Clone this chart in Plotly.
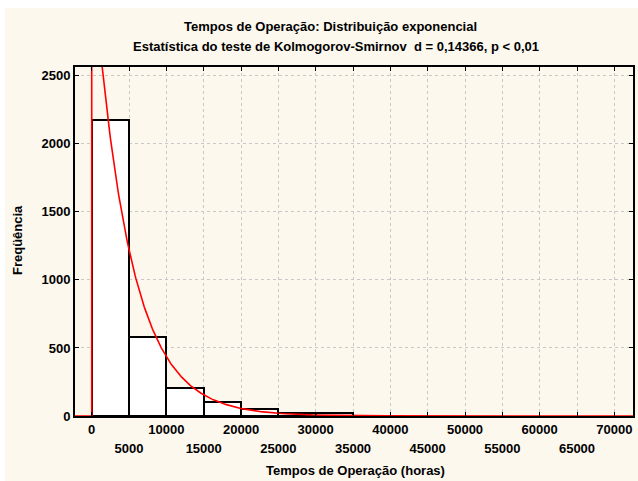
import numpy as np
import plotly.graph_objects as go

# Histogram data (bin width 5000 h)
bin_left = [0, 5000, 10000, 15000, 20000, 25000, 30000]
counts = [2174, 578, 208, 100, 49, 25, 25]
bin_width = 5000

# Fitted exponential curve parameters (expected counts per bin)
fit_amplitude = 3418      # expected count per bin width at x = 0
fit_mean = 4854           # mean operating time (hours)

x_ticks_top = [0, 10000, 20000, 30000, 40000, 50000, 60000, 70000]
x_ticks_bottom = [5000, 15000, 25000, 35000, 45000, 55000, 65000]
y_ticks = [0, 500, 1000, 1500, 2000, 2500]

title1 = "Tempos de Operação: Distribuição exponencial"
title2 = "Estatística do teste de Kolmogorov-Smirnov  d = 0,14366, p < 0,01"
x_title = "Tempos de Operação (horas)"
y_title = "Freqüência"

x_range = [-2240, 72500]
y_range = [0, 2564]

cream = "#FCF8EE"
font_family = "Arial, Liberation Sans, sans-serif"
FS = 13

all_ticks = sorted(x_ticks_top + x_ticks_bottom)
top_text = [str(v) if v in x_ticks_top else "" for v in all_ticks]

centers = [b + bin_width / 2 for b in bin_left]

xc = np.linspace(0, x_range[1], 600)
yc = fit_amplitude * np.exp(-xc / fit_mean)
curve_x = np.concatenate([[x_range[0], 0], xc])
curve_y = np.concatenate([[0, 0], yc])

fig = go.Figure()
fig.add_trace(go.Bar(
    x=centers, y=counts, width=[bin_width] * len(counts),
    marker=dict(color="white", line=dict(color="black", width=2)),
    hoverinfo="skip",
))
fig.add_trace(go.Scatter(
    x=curve_x, y=curve_y, mode="lines",
    line=dict(color="#ff0000", width=1.6),
    hoverinfo="skip",
))
# invisible trace to activate the second x axis (bottom row of labels)
fig.add_trace(go.Scatter(x=[x_range[0]], y=[0], xaxis="x2", mode="markers",
                         marker=dict(opacity=0), hoverinfo="skip"))

# plot area in window px: x 75..633, y 67..416
H = 349.0
W = 558.0
fig.update_layout(
    width=638, height=481,
    margin=dict(l=75, r=5, t=67, b=65),
    paper_bgcolor="white",
    plot_bgcolor="white",
    showlegend=False,
    bargap=0,
    font=dict(family=font_family, color="black"),
    shapes=[dict(type="rect", xref="paper", yref="paper",
                 x0=(5 - 75) / W, x1=(640 - 75) / W,
                 y0=(416 - 483) / H, y1=(416 - 8) / H,
                 fillcolor=cream, line=dict(width=0), layer="below")],
    annotations=[
        dict(text=title1, xref="paper", yref="paper", x=(330 - 75) / W, y=(416 - 26) / H,
             showarrow=False, font=dict(size=FS, weight="bold"), xanchor="center", yanchor="middle"),
        dict(text=title2, xref="paper", yref="paper", x=(336 - 75) / W, y=(416 - 47) / H,
             showarrow=False, font=dict(size=FS, weight="bold"), xanchor="center", yanchor="middle"),
        dict(text=x_title, xref="paper", yref="paper", x=(355 - 75) / W, y=(416 - 471) / H,
             showarrow=False, font=dict(size=FS, weight="bold"), xanchor="center", yanchor="middle"),
        dict(text=y_title, xref="paper", yref="paper", x=(17 - 75) / W, y=(416 - 240) / H,
             showarrow=False, font=dict(size=FS, weight="bold"), xanchor="center", yanchor="middle",
             textangle=-90),
    ],
    xaxis=dict(
        range=x_range, tickvals=all_ticks, ticktext=top_text,
        tickfont=dict(size=FS, weight="bold"),
        showgrid=True, gridcolor="#c8c8c8", griddash="dot", gridwidth=1,
        showline=True, linecolor="black", linewidth=2, mirror="ticks",
        ticks="inside", ticklen=4, tickcolor="black", tickwidth=1,
        zeroline=False, automargin=False, ticklabelstandoff=0,
        ticklabeloverflow="allow",
    ),
    xaxis2=dict(
        range=x_range, overlaying="x", anchor="y", side="bottom",
        tickvals=x_ticks_bottom, ticktext=[str(v) for v in x_ticks_bottom],
        tickfont=dict(size=FS, weight="bold"),
        showgrid=False, showline=False, ticks="", zeroline=False,
        automargin=False, ticklabelstandoff=23, ticklabeloverflow="allow",
    ),
    yaxis=dict(
        range=y_range, tickvals=y_ticks,
        tickfont=dict(size=FS, weight="bold"),
        showgrid=True, gridcolor="#c8c8c8", griddash="dot", gridwidth=1,
        showline=True, linecolor="black", linewidth=2, mirror="ticks",
        ticks="inside", ticklen=4, tickcolor="black", tickwidth=1,
        zeroline=False, automargin=False,
    ),
)

# remove the default page margin so the figure fills the 638x481 window exactly
fig.write_html(
    "out.html",
    config={"displayModeBar": False},
    post_script="document.body.style.margin='0';document.body.style.overflow='hidden';",
)
